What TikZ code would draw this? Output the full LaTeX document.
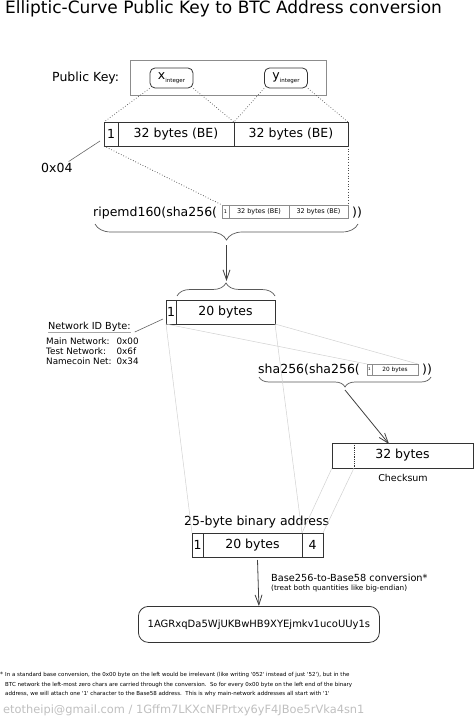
\documentclass[tikz,border=0pt]{standalone}
\usepackage{fontspec}
\setmainfont{DejaVu Sans}
\usetikzlibrary{positioning,calc,arrows.meta,decorations.pathreplacing}

\newcommand{\fs}[1]{\fontsize{#1}{#1}\selectfont}
\newcommand{\squote}{\textquotesingle}

\tikzset{
  cell/.style={draw=black!80, line width=0.9pt, minimum height=24pt, inner sep=0pt, outer sep=0pt, anchor=north west, font=\fs{12.5}},
  minicell/.style={draw=black!45, line width=0.5pt, inner sep=0pt, outer sep=0pt, anchor=north west},
  keybox/.style={draw=black!80, line width=0.8pt, rounded corners=5pt, minimum width=43pt, minimum height=20pt, inner sep=0pt, font=\fs{12.5}},
  dots/.style={black!70, line width=0.7pt, dotted},
  faint/.style={black!18, line width=0.5pt},
  lead/.style={black!60, line width=0.6pt},
  curly/.style={decorate, decoration={brace, amplitude=#1}, black!65, line width=0.7pt},
  curly/.default=10pt,
  flow/.style={black!75, line width=0.8pt, -{Straight Barb[length=10pt,width=7pt]}},
  txt/.style={anchor=base west, inner sep=0pt, font=\fs{12.5}},
}

\begin{document}
\begin{tikzpicture}[x=1pt, y=-1pt]
\useasboundingbox (0,0) rectangle (474,719);

\node[txt, font=\fs{17}] (title) at (5,14) {Elliptic-Curve Public Key to BTC Address conversion};

% public key
\node[txt] (pklabel) at (52,82) {Public Key:};
\node[draw=black!45, line width=0.8pt, minimum width=196pt, minimum height=35pt, anchor=north west] (pk) at (130,60) {};
\node[keybox] (xi) at (171.5,78) {x\raisebox{-2.5pt}{\fs{5.5}integer}};
\node[keybox] (yi) at (286,78) {y\raisebox{-2.5pt}{\fs{5.5}integer}};

\node[cell, minimum width=14pt] (c1) at (104,122) {1};
\node[cell, minimum width=116pt, right=0pt of c1] (cx) {32 bytes (BE)};
\node[cell, minimum width=114pt, right=0pt of cx] (cy) {32 bytes (BE)};
\node[txt] (zero) at (41,173) {0x04};

% hash160
\node[txt] (rip) at (93,216) {ripemd160(sha256(};
\node[minicell, minimum width=7pt, minimum height=13pt, font=\fs{5}] (r1) at (222,205) {1};
\node[minicell, minimum width=60pt, minimum height=13pt, font=\fs{6.5}, right=0pt of r1] (rx) {32 bytes (BE)};
\node[minicell, minimum width=59pt, minimum height=13pt, font=\fs{6.5}, right=0pt of rx] (ry) {32 bytes (BE)};
\node[txt] (ripend) at (352,216) {))};
\draw[curly=16pt] (358,224) -- (95,224);
\coordinate (riptip) at (226.5,245);

\draw[curly=13pt] (177,296) -- (275,296);
\coordinate (ntip) at (226.5,281);
\node[cell, minimum width=10pt] (n1) at (166,300) {1};
\node[cell, minimum width=99pt, right=0pt of n1] (n20) {20 bytes};

\node[txt, font=\fs{9.7}] (netid) at (48,329) {Network ID Byte:};
\node[txt, font=\fontsize{8.8}{10}\selectfont] (nets) at (46,344)
  {\begin{tabular}[t]{@{}l@{\hspace{5pt}}l@{}}Main Network: & 0x00\\ Test Network: & 0x6f\\ Namecoin Net: & 0x34\end{tabular}};

% checksum
\node[txt] (sha) at (258,373) {sha256(sha256(};
\node[minicell, minimum width=5pt, minimum height=11pt, font=\fs{4}] (s1) at (367,364) {1};
\node[minicell, minimum width=46pt, minimum height=11pt, font=\fs{5.8}, right=0pt of s1] (s20) {20 bytes};
\node[txt] (shaend) at (422,373) {))};
\draw[curly=10pt] (431,377) -- (259,377);
\coordinate (shatip) at (345,390);

\node[cell, minimum width=141pt, minimum height=25pt] (cs) at (332,443) {32 bytes};
\coordinate (csdiv) at ([xshift=22pt]cs.south west);
\node[txt, anchor=base, font=\fs{9.5}] (cslabel) at (403,481) {Checksum};

% address
\node[txt] (binlabel) at (184,525) {25-byte binary address};
\node[cell, minimum width=11pt] (a1) at (192,533) {1};
\node[cell, minimum width=99pt, right=0pt of a1] (a20) {20 bytes};
\node[cell, minimum width=21pt, right=0pt of a20] (a4) {4};
\coordinate (amid) at ($(a1.south west)!0.5!(a4.south east)+(0,3)$);

\node[txt, font=\fs{9.75}] (b58) at (271,581) {Base256-to-Base58 conversion*};
\node[txt, font=\fs{7.25}] (b58sub) at (271,590) {(treat both quantities like big-endian)};
\node[draw=black!80, line width=0.8pt, rounded corners=10pt, minimum width=241pt, minimum height=36pt, anchor=north west, font=\fs{10}] (addr) at (138,606) {1AGRxqDa5WjUKBwHB9XYEjmkv1ucoUUy1s};

\node[txt, font=\fs{6}] (star) at (0,676) {*};
\node[anchor=north west, inner sep=0pt, align=left, font=\fontsize{5.5}{9.5}\selectfont] (note) at (5,672.5)
  {In a standard base conversion, the 0x00 byte on the left would be irrelevant (like writing \squote052\squote\ instead of just \squote52\squote), but in the\\
   BTC network the left-most zero chars are carried through the conversion.\ \ So for every 0x00 byte on the left end of the binary\\
   address, we will attach one \squote1\squote\ character to the Base58 address.\ \ This is why main-network addresses all start with \squote1\squote};

\node[txt, font=\fs{11.4}, text=black!25] (foot) at (3,713) {etotheipi@gmail.com / 1Gffm7LKXcNFPrtxy6yF4JBoe5rVka4sn1};

% connectors
\draw[dots] (xi.south west) -- (c1.north west);
\draw[dots] (xi.south east) -- (cx.north east);
\draw[dots] (yi.south west) -- (cy.north west);
\draw[dots] (yi.south east) -- (cy.north east);
\draw[lead] ([xshift=-4pt,yshift=2pt]zero.north east) -- ([xshift=-4pt,yshift=5pt]c1.south west);
\draw[dots] (c1.south west) -- (r1.north west);
\draw[dots] (cy.south east) -- (ry.north east);
\draw[flow] (riptip) -- (ntip);
\draw[black!35, line width=0.5pt] ([yshift=-3pt]netid.base west) -- ([yshift=-3pt]netid.base east);
\draw[lead] ([xshift=4pt,yshift=-3pt]netid.base east) -- ([xshift=-3pt,yshift=5pt]n1.south west);
\draw[faint] (n1.south west) -- (s1.north west);
\draw[faint] (n20.south east) -- (s20.north east);
\draw[faint] (n1.south west) -- (a1.north west);
\draw[faint] (n20.south east) -- (a20.north east);
\draw[flow] (shatip) -- ([xshift=57pt,yshift=-1pt]cs.north west);
\draw[black!80, line width=0.8pt, densely dotted] ([xshift=22pt]cs.north west) -- (csdiv);
\draw[faint] (cs.south west) -- (a4.north west);
\draw[faint] (csdiv) -- (a4.north east);
\draw[flow] (amid) -- (addr.north);
\end{tikzpicture}
\end{document}
